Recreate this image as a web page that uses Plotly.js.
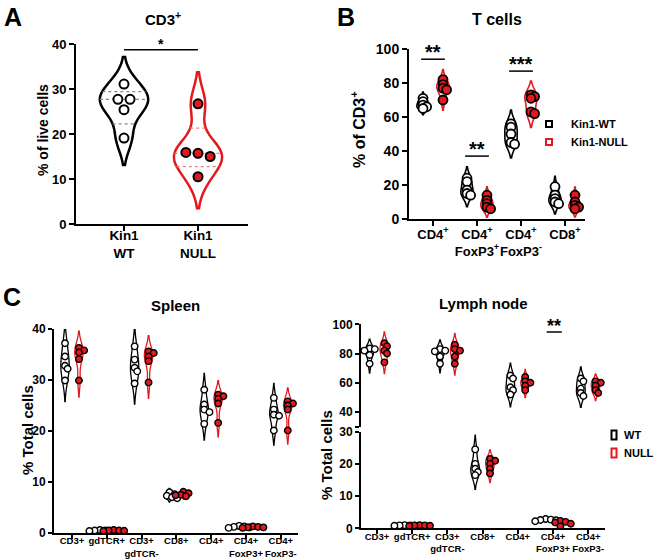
<!DOCTYPE html>
<html><head><meta charset="utf-8">
<script src="https://cdn.plot.ly/plotly-3.0.1.min.js"></script>
<style>html,body{margin:0;padding:0;background:#fff}#chart{width:656px;height:560px}</style>
</head><body><div id="chart"></div>
<script>
// ---------- DATA ----------
// Panel A: CD3+ (% of live cells)
const aCats = ['Kin1<br>WT', 'Kin1<br>NULL'];
const aWT = [31.1, 27.7, 27.7, 25.4, 19.1];
const aNULL = [26.7, 15.9, 15.7, 15.0, 10.5];
const aSig = '*';
// Panel B: T cells (% of CD3+)
const bCats = ['CD4<sup>+</sup>', 'CD4<sup>+</sup><br>FoxP3<sup>+</sup>', 'CD4<sup>+</sup><br>FoxP3<sup>-</sup>', 'CD8<sup>+</sup>'];
const bWT = [[71, 69, 67, 66, 65], [24, 22, 17, 15, 14], [56, 54, 50, 45, 44], [19, 14, 12, 10, 9]];
const bNULL = [[82, 79, 77, 76, 70], [14, 11, 9, 7, 6], [73, 72, 71, 63, 62], [14, 10, 8, 7, 6]];
const bSig = ['**', '**', '***', ''];
const bSeries = ['Kin1-WT', 'Kin1-NULL'];
// Panel C: % Total cells
const cCats = ['CD3+', 'gdTCR+', 'CD3+<br>gdTCR-', 'CD8+', 'CD4+', 'CD4+<br>FoxP3+', 'CD4+<br>FoxP3-'];
const spleenWT = [[37.2, 34.6, 32.8, 32.2, 29.9], [0.6, 0.5, 0.5, 0.4, 0.45], [36.6, 34.0, 32.4, 31.7, 29.3], [8.0, 7.6, 7.3, 7.0, 6.8], [28.1, 25.2, 24.2, 23.7, 21.4], [1.4, 1.3, 1.2, 1.1, 1.0], [26.5, 24.2, 23.2, 23.0, 20.1]];
const spleenNULL = [[36.3, 35.8, 35.4, 34.1, 29.9], [0.6, 0.5, 0.5, 0.45, 0.4], [35.6, 35.3, 34.6, 33.7, 29.5], [8.1, 7.8, 7.5, 7.4, 7.2], [27.1, 26.8, 26.3, 25.4, 21.6], [1.3, 1.2, 1.1, 1.1, 1.0], [25.8, 25.4, 25.0, 24.2, 20.1]];
const lymphWT = [[83.5, 83, 82, 79, 73], [1.0, 0.9, 0.9, 0.8, 0.8], [83, 82, 81.5, 78, 73], [24.5, 20, 18.5, 17.5, 16.5], [65, 63, 57, 55, 52], [2.9, 2.7, 2.6, 2.5, 2.2], [63, 61, 56, 53, 51]];
const lymphNULL = [[87, 85, 82, 80, 74], [1.0, 0.9, 0.9, 0.8, 0.7], [86, 83, 82, 78, 73], [21.5, 21, 20, 18.5, 17], [64, 61, 60, 58, 55], [2.3, 2.0, 1.8, 1.4, 0.6], [61, 60, 58, 55, 53]];
const lymphSig = ['', '', '', '', '', '**', ''];
const cSeries = ['WT', 'NULL'];

// ---------- STYLE / LAYOUT HELPERS ----------
const W = 656, H = 560;
const FAM = 'Liberation Sans, Arial, sans-serif';
const RED = '#e3191f';
function fnt(size, color) { return {family: FAM, size: size, color: color || '#000', weight: 'bold'}; }
function fx(px) { return px / W; }
function fy(py) { return 1 - py / H; }

// point layout: 'cluster' spreads near-equal values symmetrically; otherwise greedy swarm in pixel space
function swarm(vals, center, o) {
  const D = o.ms, pyu = o.pyu, pxu = o.pxu;
  const xs = new Array(vals.length);
  const idx = vals.map((v, i) => i).sort((a, b) => vals[b] - vals[a]);
  if (o.cluster) {
    const clusters = []; let cur = [idx[0]];
    for (let k = 1; k < idx.length; k++) {
      if ((vals[idx[k - 1]] - vals[idx[k]]) * pyu < D * 0.9) cur.push(idx[k]);
      else { clusters.push(cur); cur = [idx[k]]; }
    }
    clusters.push(cur);
    clusters.forEach(c => c.forEach((i, j) => { xs[i] = center + (j - (c.length - 1) / 2) * D * o.step / pxu; }));
    return xs;
  }
  const placed = [];
  idx.forEach(i => {
    const y = vals[i] * pyu; let best = 0;
    for (let k = 0; k < 30; k++) {
      const off = k === 0 ? 0 : (k % 2 ? 1 : -1) * Math.ceil(k / 2) * D * o.step;
      if (placed.every(p => Math.hypot(p.x - off, p.y - y) >= D * o.ov)) { best = off; break; }
    }
    placed.push({x: best, y: y}); xs[i] = center + best / pxu;
  });
  return xs;
}
function quart(vals, p) {
  const s = [...vals].sort((a, b) => a - b), n = s.length;
  let pos = (n + 1) * p; pos = Math.max(1, Math.min(n, pos));
  const lo = Math.floor(pos), fr = pos - lo;
  return lo >= n ? s[n - 1] : s[lo - 1] + fr * (s[lo] - s[lo - 1]);
}
function kdeHalf(vals, h, y, width) {
  const d = t => vals.reduce((s, v) => s + Math.exp(-0.5 * ((t - v) / h) ** 2), 0);
  const lo = Math.min(...vals) - 2 * h, hi = Math.max(...vals) + 2 * h;
  let m = 0; for (let i = 0; i <= 400; i++) m = Math.max(m, d(lo + (hi - lo) * i / 400));
  return width / 2 * d(y) / m;
}

const traces = [];
function addGroup(vals, center, isNull, o) {
  const col = isNull ? RED : '#000';
  const v = {type: 'violin', x0: center, y: vals, orientation: 'v', xaxis: o.xa, yaxis: o.ya,
    width: o.vw, scalemode: 'width', spanmode: 'soft', points: false,
    line: {color: col, width: o.lw}, fillcolor: 'rgba(255,255,255,0)',
    box: {visible: false}, meanline: {visible: false}, hoverinfo: 'skip', showlegend: false};
  if (o.bw) v.bandwidth = o.bw;
  traces.push(v);
  if (o.quart) {
    [0.25, 0.5, 0.75].forEach(p => {
      const q = quart(vals, p), hw = kdeHalf(vals, o.bw, q, o.vw);
      traces.push({type: 'scatter', mode: 'lines', x: [center - hw, center + hw], y: [q, q], xaxis: o.xa, yaxis: o.ya,
        line: {color: isNull ? '#f08080' : '#888', width: 1.3, dash: 'dot'}, hoverinfo: 'skip', showlegend: false});
    });
  }
  traces.push({type: 'scatter', mode: 'markers', x: swarm(vals, center, o), y: vals,
    xaxis: o.xa, yaxis: o.ya, hoverinfo: 'skip', showlegend: false,
    marker: {size: o.ms, color: isNull ? RED : '#fff', line: {color: '#000', width: o.mlw}}});
}

// Panel geometry (pixels)
const gA = {x: [76, 248], y: [224, 44], xr: [-0.6486, 1.6757], yr: [0, 40]};
const gB = {x: [409, 585], y: [219, 49], xr: [-0.5455, 3.4545], yr: [0, 100]};
const gS = {x: [54, 298], y: [533, 329], xr: [-0.517, 6.494], yr: [0, 40]};
const gL = {x: [361, 605], yLo: [528.3, 431.7], yUp: [426.7, 324.3], xr: [-0.4545, 6.477]};
const ppx = g => (g.x[1] - g.x[0]) / (g.xr[1] - g.xr[0]);

// Panel A
const oA = {xa: 'x', ya: 'y', vw: 0.65, lw: 2.5, quart: true, pyu: 4.5, pxu: ppx(gA), ms: 9, mlw: 2, step: 1.35, cluster: true};
addGroup(aWT, 0, false, Object.assign({}, oA, {bw: 3}));
addGroup(aNULL, 1, true, Object.assign({}, oA, {bw: 3.5}));
// Panel B
const oB = {xa: 'x2', ya: 'y2', vw: 0.28, lw: 1.6, pyu: 1.7, pxu: ppx(gB), ms: 9, mlw: 1.8, step: 0.4, ov: 0.35};
bCats.forEach((c, i) => {
  addGroup(bWT[i], i - 0.227, false, oB);
  addGroup(bNULL[i], i + 0.227, true, oB);
});
// Panel C spleen
const oS = {xa: 'x3', ya: 'y3', vw: 0.24, lw: 1.3, pyu: 5.1, pxu: ppx(gS), ms: 6.5, mlw: 1.4, step: 0.4, ov: 0.6};
cCats.forEach((c, i) => {
  addGroup(spleenWT[i], i - 0.2, false, oS);
  addGroup(spleenNULL[i], i + 0.2, true, oS);
});
// Panel C lymph node (broken axis: lower 0-30, upper 30-100)
cCats.forEach((c, i) => {
  const up = Math.max(...lymphWT[i], ...lymphNULL[i]) > 30;
  const oL = {xa: 'x4', ya: up ? 'y5' : 'y4', vw: 0.25, lw: 1.3, pyu: up ? 1.467 : 3.22, pxu: ppx({x: gL.x, xr: gL.xr}), ms: 6.5, mlw: 1.4, step: 0.4, ov: 0.6};
  addGroup(lymphWT[i], i - 0.21, false, oL);
  addGroup(lymphNULL[i], i + 0.21, true, oL);
});

function axis(extra) {
  return Object.assign({showline: true, linewidth: 2, linecolor: '#000', ticks: 'outside', ticklen: 5, tickwidth: 2, tickcolor: '#000',
    showgrid: false, zeroline: false, fixedrange: true, tickangle: 0}, extra);
}
const layout = {
  width: W, height: H, margin: {l: 0, r: 0, t: 0, b: 0}, paper_bgcolor: '#fff', plot_bgcolor: 'rgba(0,0,0,0)',
  violinmode: 'overlay', showlegend: false,
  xaxis: axis({domain: [fx(gA.x[0]), fx(gA.x[1])], range: gA.xr, anchor: 'y', tickvals: [0, 1], ticktext: aCats, tickfont: fnt(13.5), ticklabelstandoff: -7}),
  yaxis: axis({domain: [fy(gA.y[0]), fy(gA.y[1])], range: gA.yr, anchor: 'x', tickvals: [0, 10, 20, 30, 40], tickfont: fnt(13)}),
  xaxis2: axis({domain: [fx(gB.x[0]), fx(gB.x[1])], range: gB.xr, anchor: 'y2', tickvals: [0, 1, 2, 3], ticktext: bCats, tickfont: fnt(13), ticklabelstandoff: -3}),
  yaxis2: axis({domain: [fy(gB.y[0]), fy(gB.y[1])], range: gB.yr, anchor: 'x2', tickvals: [0, 20, 40, 60, 80, 100], tickfont: fnt(14)}),
  xaxis3: axis({domain: [fx(gS.x[0]), fx(gS.x[1])], range: gS.xr, anchor: 'y3', tickvals: [0, 1, 2, 3, 4, 5, 6], ticktext: cCats, tickfont: fnt(9.5), ticklen: 4, ticklabelstandoff: -6}),
  yaxis3: axis({domain: [fy(gS.y[0]), fy(gS.y[1])], range: gS.yr, anchor: 'x3', tickvals: [0, 10, 20, 30, 40], tickfont: fnt(12), ticklen: 4}),
  xaxis4: axis({domain: [fx(gL.x[0]), fx(gL.x[1])], range: gL.xr, anchor: 'y4', tickvals: [0, 1, 2, 3, 4, 5, 6], ticktext: cCats, tickfont: fnt(9.5), ticklen: 4, ticklabelstandoff: -6}),
  yaxis4: axis({domain: [fy(gL.yLo[0]), fy(gL.yLo[1])], range: [0, 30], anchor: 'x4', tickvals: [0, 10, 20, 30], tickfont: fnt(12), ticklen: 4}),
  yaxis5: axis({domain: [fy(gL.yUp[0]), fy(gL.yUp[1])], range: [30, 100], anchor: 'x4', tickvals: [30, 40, 60, 80, 100], ticktext: ['', '40', '60', '80', '100'], tickfont: fnt(12), ticklen: 4}),
  annotations: [], shapes: []
};
function ann(text, px, py, size, extra) {
  layout.annotations.push(Object.assign({text: text, x: fx(px), y: fy(py), xref: 'paper', yref: 'paper', showarrow: false,
    xanchor: 'center', yanchor: 'middle', font: fnt(size)}, extra || {}));
}
ann('A', 13, 17, 25); ann('B', 346, 17, 25); ann('C', 12, 297, 25);
ann('CD3<sup>+</sup>', 163, 18, 15); ann('T cells', 497, 20, 16);
ann('Spleen', 175, 306, 15); ann('Lymph node', 483, 303, 15);
ann('% of live cells', 43, 130, 14, {textangle: -90});
ann('% of CD3<sup>+</sup>', 358, 130, 16, {textangle: -90});
ann('% Total cells', 27, 430, 15, {textangle: -90});
ann('% Total cells', 326, 455, 15, {textangle: -90});

// Legends (key squares + labels)
function key(labels, px, pys, tx, w, h, size) {
  labels.forEach((s, i) => {
    const col = i ? RED : '#000';
    layout.shapes.push({type: 'rect', xref: 'paper', yref: 'paper', x0: fx(px - w / 2), x1: fx(px + w / 2), y0: fy(pys[i] + h / 2), y1: fy(pys[i] - h / 2),
      line: {color: col, width: 2}, fillcolor: 'rgba(0,0,0,0)'});
    ann(s, tx, pys[i], size, {xanchor: 'left'});
  });
}
key(bSeries, 549, [124, 142], 569, 6, 6, 11);
key(cSeries, 614, [435, 453], 622, 5, 9, 11);

function sig(xa, ya, x0, x1, y, text, size, shift) {
  layout.shapes.push({type: 'line', xref: xa, yref: ya, x0: x0, x1: x1, y0: y, y1: y, line: {color: '#000', width: 1.5}});
  layout.annotations.push({text: text, xref: xa, yref: ya, x: (x0 + x1) / 2, y: y, yanchor: 'bottom', showarrow: false, font: fnt(size), yshift: shift});
}
sig('x', 'y', 0, 1, 38.7, aSig, 14, -4);
bSig.forEach((s, i) => { if (s) sig('x2', 'y2', i - 0.27, i + 0.27, [94, 37, 87, 0][i], s, 20, -6); });
lymphSig.forEach((s, i) => { if (s) sig('x4', 'y5', i - 0.18, i + 0.25, 94.7, s, 18, -6); });

Plotly.newPlot('chart', traces, layout, {staticPlot: true, displayModeBar: false});
</script>
</body></html>
